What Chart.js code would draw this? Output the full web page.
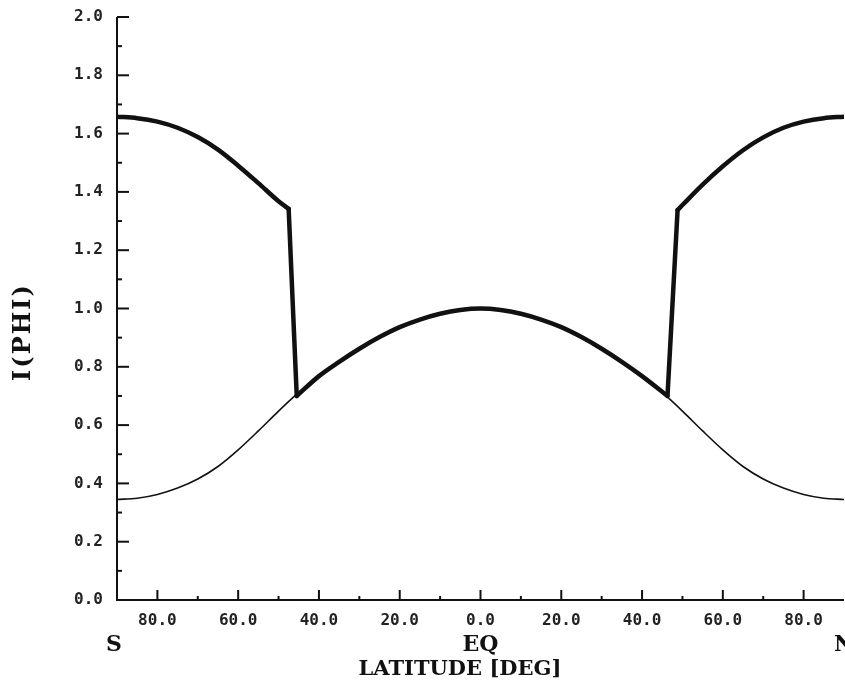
<!DOCTYPE html>
<html>
<head>
<meta charset="utf-8">
<script src="https://cdn.jsdelivr.net/npm/chart.js@4"></script>
<style>
  html, body { margin: 0; padding: 0; background: #fff; }
  #wrap { width: 845px; height: 683px; position: relative; }
</style>
</head>
<body>
<div id="wrap"><canvas id="phiChart"></canvas></div>
<script>
// thin curve (whole range, read every 5 deg)
var thinLat = [-90,-85,-80,-75,-70,-65,-60,-55,-50,-45,-40,-35,-30,-25,-20,-15,-10,-5,0,
               5,10,15,20,25,30,35,40,45,50,55,60,65,70,75,80,85,90];
var thinVal = [0.345,0.349,0.362,0.384,0.415,0.458,0.515,0.580,0.648,0.712,0.768,0.817,0.862,0.902,0.936,0.962,0.982,0.995,1.000,
               0.995,0.982,0.962,0.936,0.902,0.862,0.817,0.768,0.712,0.648,0.580,0.515,0.458,0.415,0.384,0.362,0.349,0.345];

// thick curve, three pieces plus the two jumps
var southLat = [-90,-85,-80,-75,-70,-65,-60,-55,-50,-47.5];
var southVal = [1.658,1.653,1.641,1.620,1.588,1.545,1.490,1.430,1.368,1.342];
var eqLat = [-45.5,-40,-35,-30,-25,-20,-15,-10,-5,0,5,10,15,20,25,30,35,40,46.3];
var eqVal = [0.700,0.768,0.817,0.862,0.902,0.936,0.962,0.982,0.995,1.000,0.995,0.982,0.962,0.936,0.902,0.862,0.817,0.768,0.700];
var northLat = [48.8,50,55,60,65,70,75,80,85,90];
var northVal = [1.338,1.355,1.425,1.488,1.543,1.587,1.620,1.641,1.653,1.658];
var jumpSLat = [-47.5,-45.5];
var jumpSVal = [1.342,0.700];
var jumpNLat = [46.3,48.8];
var jumpNVal = [0.700,1.338];

var ink = '#111';

function pts(xs, ys) {
    return xs.map(function (x, i) { return { x: x, y: ys[i] }; });
}

function thick(xs, ys, smooth) {
    return {
        data: pts(xs, ys),
        borderColor: ink,
        borderWidth: 4.5,
        pointRadius: 0,
        cubicInterpolationMode: smooth ? 'monotone' : 'default',
        tension: 0,
        borderCapStyle: 'round',
        borderJoinStyle: 'round'
    };
}

// axis lines, inward ticks and the extra labels
var plotterAxes = {
    id: 'plotterAxes',
    afterDraw: function (chart) {
        var ctx = chart.ctx, a = chart.chartArea;
        var x = chart.scales.x, y = chart.scales.y;
        ctx.save();
        ctx.strokeStyle = ink;
        ctx.lineWidth = 2;
        ctx.beginPath();
        ctx.moveTo(a.left, a.top);
        ctx.lineTo(a.left, a.bottom);
        ctx.lineTo(a.right, a.bottom);
        ctx.stroke();

        y.ticks.forEach(function (t, i) {
            var py = y.getPixelForValue(t.value);
            var len = i % 2 === 0 ? 12 : 5;
            ctx.beginPath();
            ctx.moveTo(a.left, py);
            ctx.lineTo(a.left + len, py);
            ctx.stroke();
        });
        x.ticks.forEach(function (t) {
            if (Math.abs(t.value) >= 90) return;
            var px = x.getPixelForValue(t.value);
            var len = t.value % 20 === 0 ? 10 : 4;
            ctx.beginPath();
            ctx.moveTo(px, a.bottom);
            ctx.lineTo(px, a.bottom - len);
            ctx.stroke();
        });

        ctx.fillStyle = ink;
        ctx.textAlign = 'center';
        ctx.textBaseline = 'middle';
        ctx.font = 'bold 22px "DejaVu Serif"';
        ctx.fillText('S', x.getPixelForValue(-90) - 3, 645);
        ctx.fillText('EQ', x.getPixelForValue(0), 645);
        ctx.fillText('N', x.getPixelForValue(90), 645);

        ctx.font = 'bold 21px "DejaVu Serif"';
        ctx.fillText('LATITUDE [DEG]', 460, 670);

        ctx.translate(24, 332);
        ctx.rotate(-Math.PI / 2);
        ctx.font = 'bold 24px "DejaVu Serif"';
        ctx.letterSpacing = '2px';
        ctx.fillText('I(PHI)', 0, 0);
        ctx.restore();
    }
};

var tickFont = { family: 'DejaVu Sans Mono', size: 16, weight: 'bold' };

var ctx = document.getElementById('phiChart').getContext('2d');
var chart = new Chart(ctx, {
    type: 'line',
    data: {
        datasets: [
            thick(southLat, southVal, true),
            thick(eqLat, eqVal, true),
            thick(northLat, northVal, true),
            thick(jumpSLat, jumpSVal, false),
            thick(jumpNLat, jumpNVal, false),
            {
                data: pts(thinLat, thinVal),
                borderColor: ink,
                borderWidth: 1.6,
                pointRadius: 0,
                cubicInterpolationMode: 'monotone'
            }
        ]
    },
    options: {
        responsive: true,
        maintainAspectRatio: false,
        animation: false,
        layout: { padding: { top: 17, right: 1, left: 0, bottom: 0 } },
        plugins: {
            legend: { display: false },
            tooltip: { enabled: false }
        },
        scales: {
            x: {
                type: 'linear',
                min: -90,
                max: 90,
                grid: { display: false, drawTicks: false },
                border: { display: false },
                ticks: {
                    stepSize: 10,
                    autoSkip: false,
                    maxRotation: 0,
                    padding: 11,
                    color: '#222',
                    font: tickFont,
                    callback: function (v) {
                        if (Math.abs(v) >= 90 || v % 20 !== 0) return '';
                        return Math.abs(v).toFixed(1);
                    }
                },
                afterFit: function (s) {
                    s.height = 83;
                    s.paddingLeft = 0;
                    s.paddingRight = 0;
                }
            },
            y: {
                min: 0,
                max: 2,
                grid: { display: false, drawTicks: false },
                border: { display: false },
                ticks: {
                    stepSize: 0.1,
                    autoSkip: false,
                    padding: 14,
                    color: '#222',
                    font: tickFont,
                    callback: function (v, i) {
                        return i % 2 === 0 ? v.toFixed(1) : '';
                    }
                },
                afterFit: function (s) {
                    s.width = 117;
                    s.paddingTop = 0;
                    s.paddingBottom = 0;
                }
            }
        }
    },
    plugins: [plotterAxes]
});
</script>
</body>
</html>
